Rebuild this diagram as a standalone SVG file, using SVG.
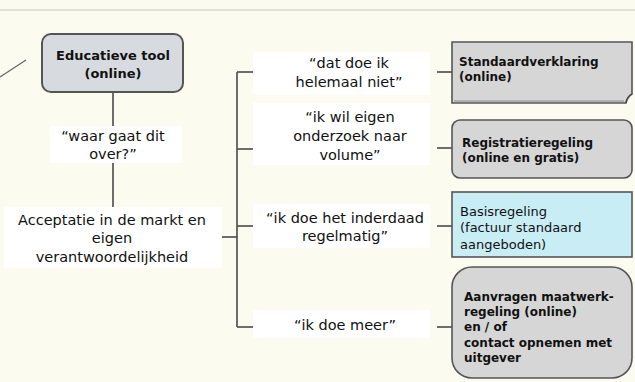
<svg xmlns="http://www.w3.org/2000/svg" width="635" height="382" viewBox="0 0 635 382">
<style>
.lbl{font-family:"DejaVu Sans",Verdana,sans-serif;font-size:14.5px;fill:#111;text-anchor:middle}
.bx{font-family:"DejaVu Sans",Verdana,sans-serif;font-size:12px;font-weight:bold;fill:#111}
.bxr{font-family:"DejaVu Sans",Verdana,sans-serif;font-size:13px;fill:#111}
.ln{stroke:#4a4a4a;stroke-width:1.6;fill:none}
.wb{fill:#ffffff}
.gray{fill:#d6d6d6;stroke:#555;stroke-width:1.6}
</style>
<rect x="0" y="0" width="635" height="382" fill="#fbfbf0"/>
<line x1="0" y1="10" x2="635" y2="10" stroke="#d9d9cc" stroke-width="1.5"/>
<line x1="0" y1="77" x2="26" y2="60" stroke="#666" stroke-width="1.2"/>

<g id="connectors">
  <line class="ln" x1="113" y1="92" x2="113" y2="126"/>
  <line class="ln" x1="113" y1="163" x2="113" y2="207"/>
  <line class="ln" x1="222" y1="237" x2="237" y2="237"/>
  <line class="ln" x1="237" y1="72" x2="237" y2="327"/>
  <line class="ln" x1="237" y1="72" x2="253" y2="72"/>
  <line class="ln" x1="237" y1="149" x2="253" y2="149"/>
  <line class="ln" x1="237" y1="226" x2="253" y2="226"/>
  <line class="ln" x1="237" y1="327" x2="253" y2="327"/>
  <line class="ln" x1="437" y1="72" x2="452" y2="72"/>
  <line class="ln" x1="437" y1="148" x2="452" y2="148"/>
  <line class="ln" x1="437" y1="226" x2="452" y2="226"/>
  <line class="ln" x1="437" y1="327" x2="452" y2="327"/>
</g>

<g id="educatieve">
  <rect x="42" y="34" width="141" height="58" rx="9" fill="#d7dbdf" stroke="#555" stroke-width="2"/>
  <text x="113" y="60" font-family="DejaVu Sans,Verdana,sans-serif" font-size="13" font-weight="bold" fill="#111" text-anchor="middle">Educatieve tool</text>
  <text x="113" y="78" font-family="DejaVu Sans,Verdana,sans-serif" font-size="13" font-weight="bold" fill="#111" text-anchor="middle">(online)</text>
</g>

<g id="waar">
  <rect class="wb" x="50" y="126" width="132" height="37"/>
  <text class="lbl" x="113" y="141">“waar gaat dit</text>
  <text class="lbl" x="113" y="159">over?”</text>
</g>

<g id="acceptatie">
  <rect class="wb" x="4" y="207" width="218" height="61"/>
  <text class="lbl" x="112" y="225">Acceptatie in de markt en</text>
  <text class="lbl" x="112" y="243">eigen</text>
  <text class="lbl" x="112" y="262">verantwoordelijkheid</text>
</g>

<g id="label1">
  <rect class="wb" x="253" y="52" width="177" height="43"/>
  <text class="lbl" x="349" y="68">“dat doe ik</text>
  <text class="lbl" x="349" y="87">helemaal niet”</text>
</g>

<g id="label2">
  <rect class="wb" x="253" y="103" width="177" height="62"/>
  <text class="lbl" x="350" y="122">“ik wil eigen</text>
  <text class="lbl" x="350" y="141">onderzoek naar</text>
  <text class="lbl" x="350" y="160">volume”</text>
</g>

<g id="label3">
  <rect class="wb" x="253" y="204" width="177" height="44"/>
  <text class="lbl" x="345" y="223">“ik doe het inderdaad</text>
  <text class="lbl" x="345" y="241">regelmatig”</text>
</g>

<g id="label4">
  <rect class="wb" x="253" y="310" width="177" height="28"/>
  <text class="lbl" x="345" y="330">“ik doe meer”</text>
</g>

<g id="standaard">
  <path class="gray" d="M452 42 H632 V94 Q627 97 626 103 H452 Z"/>
  <line x1="454" y1="101" x2="624" y2="101" stroke="#888" stroke-width="1"/>
  <path d="M626 103 Q627 97 632 94" fill="#bbb" stroke="#444" stroke-width="1.4"/>
  <text class="bx" x="459" y="66">Standaardverklaring</text>
  <text class="bx" x="459" y="81">(online)</text>
</g>

<g id="registratie">
  <rect class="gray" x="452" y="120" width="180" height="58" rx="8"/>
  <text class="bx" x="462" y="147">Registratieregeling</text>
  <text class="bx" x="462" y="162">(online en gratis)</text>
</g>

<g id="basis">
  <rect x="452" y="192" width="180" height="65" fill="#c9edf5" stroke="#555" stroke-width="1.6"/>
  <text class="bxr" x="460" y="216">Basisregeling</text>
  <text class="bxr" x="460" y="232">(factuur standaard</text>
  <text class="bxr" x="460" y="249">aangeboden)</text>
</g>

<g id="aanvragen">
  <rect class="gray" x="452" y="267" width="180" height="111" rx="20"/>
  <text class="bx" x="464" y="301">Aanvragen maatwerk-</text>
  <text class="bx" x="464" y="316">regeling (online)</text>
  <text class="bx" x="464" y="331">en / of</text>
  <text class="bx" x="464" y="347">contact opnemen met</text>
  <text class="bx" x="464" y="362">uitgever</text>
</g>
</svg>
